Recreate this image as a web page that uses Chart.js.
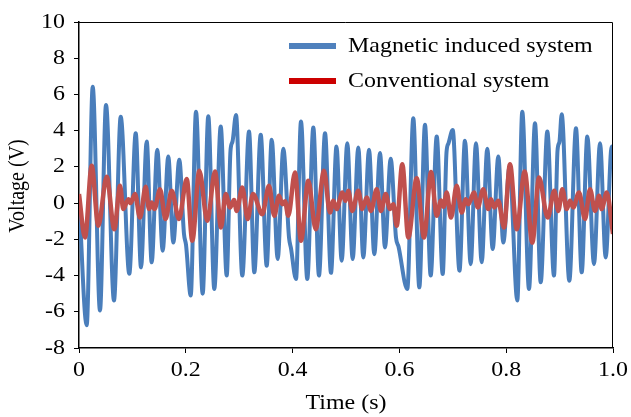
<!DOCTYPE html>
<html>
<head>
<meta charset="utf-8">
<script src="https://cdn.jsdelivr.net/npm/chart.js@4.4.1/dist/chart.umd.min.js"></script>
<style>
  html, body { margin: 0; padding: 0; background: #fff; }
  #wrap { width: 631px; height: 417px; }
</style>
</head>
<body>
<div id="wrap"><canvas id="chart-voltage" width="631" height="417"></canvas></div>
<script>
// values (peaks, troughs and shoulders)
const magneticTime = [
  0.000, 0.0144, 0.0257, 0.0393, 0.0506, 0.0655, 0.0781, 0.0942, 0.1062, 0.1161,
  0.1268, 0.1361, 0.1466, 0.1567, 0.1672, 0.1766, 0.1878, 0.1966, 0.2004, 0.2092,
  0.2191, 0.2316, 0.2421, 0.2534, 0.2654, 0.2766, 0.2837, 0.2875, 0.2940, 0.3058,
  0.3184, 0.3283, 0.3403, 0.3515, 0.3609, 0.3721, 0.3826, 0.3933, 0.3970, 0.4064,
  0.4157, 0.4275, 0.4388, 0.4494, 0.4607, 0.4719, 0.4822, 0.4919, 0.5024, 0.5125,
  0.5230, 0.5324, 0.5431, 0.5530, 0.5637, 0.5730, 0.5837, 0.5936, 0.5983, 0.6148,
  0.6260, 0.6373, 0.6479, 0.6586, 0.6699, 0.6811, 0.6882, 0.6919, 0.6998, 0.7125,
  0.7228, 0.7335, 0.7434, 0.7541, 0.7646, 0.7747, 0.7852, 0.7946, 0.8062, 0.8208,
  0.8301, 0.8427, 0.8539, 0.8646, 0.8770, 0.8895, 0.8961, 0.8998, 0.9039, 0.9182,
  0.9307, 0.9414, 0.9519, 0.9644, 0.9757, 0.9863, 0.9976, 1.000
];
const magneticVolt = [
  0.3, -6.75, 6.42, -5.93, 5.42, -5.38, 4.77, -3.9, 3.86, -3.55,
  3.4, -3.27, 2.95, -2.63, 2.58, -2.18, 2.4, -1.7, -2.3, -5.1,
  5.05, -5.0, 4.8, -4.74, 4.23, -4.0, 2.9, 3.4, 4.87, -4.0,
  3.95, -3.82, 3.77, -3.46, 3.5, -3.09, 3.0, -1.9, -2.5, -4.19,
  4.5, -4.19, 4.17, -4.0, 3.86, -3.85, 3.13, -3.18, 3.31, -3.09,
  3.07, -3.0, 2.95, -2.82, 2.76, -2.45, 2.45, -1.9, -2.4, -4.74,
  4.68, -4.65, 4.32, -4.0, 3.68, -3.91, 2.8, 3.3, 4.04, -3.73,
  3.45, -3.37, 3.31, -3.27, 3.0, -2.54, 2.58, -2.18, 2.0, -5.38,
  5.05, -4.74, 4.41, -4.37, 3.95, -4.0, 2.9, 3.4, 4.9, -4.28,
  4.13, -3.82, 3.68, -3.37, 3.31, -3.0, 3.13, 3.0
];

const conventionalTime = [
  0.000, 0.0112, 0.0238, 0.0361, 0.0519, 0.0661, 0.0768, 0.0830, 0.0923, 0.0964,
  0.1049, 0.1142, 0.1249, 0.1311, 0.1361, 0.1414, 0.1517, 0.1620, 0.1736, 0.1873,
  0.2017, 0.2122, 0.2253, 0.2403, 0.2547, 0.2659, 0.2747, 0.2828, 0.2903, 0.2953,
  0.3058, 0.3159, 0.3258, 0.3433, 0.3558, 0.3657, 0.3745, 0.3807, 0.3858, 0.3919,
  0.4045, 0.4157, 0.4294, 0.4433, 0.4588, 0.4700, 0.4762, 0.4826, 0.4931, 0.4991,
  0.5043, 0.5118, 0.5230, 0.5305, 0.5388, 0.5468, 0.5575, 0.5655, 0.5743, 0.5824,
  0.5886, 0.5949, 0.6054, 0.6167, 0.6324, 0.6461, 0.6592, 0.6699, 0.6779, 0.6826,
  0.6886, 0.6966, 0.7073, 0.7167, 0.7242, 0.7290, 0.7397, 0.7466, 0.7571, 0.7665,
  0.7715, 0.7777, 0.7852, 0.7959, 0.8071, 0.8197, 0.8346, 0.8489, 0.8614, 0.8777,
  0.8901, 0.8976, 0.9051, 0.9133, 0.9195, 0.9257, 0.9363, 0.9476, 0.9569, 0.9663,
  0.9738, 0.9788, 0.9882, 1.000
];
const conventionalVolt = [
  0.5, -1.9, 2.06, -1.25, 1.45, -1.44, 0.96, -0.33, 0.22, 0.0,
  0.5, -0.8, 0.9, -0.33, 0.03, -0.33, 0.77, -0.88, 0.68, -0.88,
  1.33, -2.08, 1.78, -0.98, 1.75, -1.35, 0.5, -0.24, 0.17, -0.43,
  0.86, -0.88, 0.5, -0.61, 0.96, -0.7, 0.4, -0.06, 0.1, -0.7,
  1.69, -2.08, 1.23, -1.44, 1.78, -0.52, 0.13, -0.33, 0.59, 0.13,
  0.68, -0.43, 0.68, -0.33, 0.31, -0.43, 0.77, -0.43, 0.5, -0.33,
  -0.06, -1.25, 2.15, -1.9, 1.37, -1.9, 1.72, -0.7, 0.15, -0.2,
  0.59, -0.8, 0.96, -0.52, 0.22, -0.06, 0.59, -0.24, 0.77, -0.33,
  0.22, -0.24, 0.13, -1.35, 2.15, -1.44, 1.75, -2.18, 1.41, -0.8,
  0.68, -0.43, 0.77, -0.33, 0.13, -0.24, 0.59, -0.88, 0.77, -0.43,
  0.4, -0.33, 0.59, -1.7
];

const seriesNames = ['Magnetic induced system', 'Conventional system'];
const xTickLabels = ['0', '0.2', '0.4', '0.6', '0.8', '1.0'];
const yTickLabels = ['-8', '-6', '-4', '-2', '0', '2', '4', '6', '8', '10'];

const toPoints = (xs, ys) => xs.map((x, i) => ({ x, y: ys[i] }));

const BLUE = '#4a7ebb';
const RED = '#c0504d';
const FONT = '"Liberation Serif", "Times New Roman", serif';
const STRETCH = 1.14; // the reference text is a bit wide

const drawText = (ctx, text, x, y, align, rotate) => {
  ctx.save();
  ctx.translate(x, y);
  ctx.scale(STRETCH, 1);
  if (rotate) ctx.rotate(-Math.PI / 2);
  ctx.textAlign = align;
  ctx.fillText(text, 0, 0);
  ctx.restore();
};

// frame on top/right, tick labels, titles and the inside legend
const textPlugin = {
  id: 'frameAndText',
  afterDraw(chart) {
    const { ctx, chartArea: a, scales } = chart;
    ctx.save();
    ctx.strokeStyle = '#000';
    ctx.lineWidth = 1;
    ctx.beginPath();
    ctx.moveTo(a.left, a.top + 0.5);
    ctx.lineTo(a.right - 0.5, a.top + 0.5);
    ctx.lineTo(a.right - 0.5, a.bottom);
    ctx.stroke();

    ctx.font = `21px ${FONT}`;
    ctx.textBaseline = 'middle';
    ctx.fillStyle = '#000';

    scales.x.ticks.forEach((t, i) => {
      drawText(ctx, xTickLabels[i], scales.x.getPixelForValue(t.value), 370, 'center');
    });
    scales.y.ticks.forEach((t, i) => {
      drawText(ctx, yTickLabels[i], 65, scales.y.getPixelForValue(t.value), 'right');
    });
    drawText(ctx, 'Time (s)', (a.left + a.right) / 2, 403, 'center');
    ctx.font = `20px ${FONT}`;
    drawText(ctx, 'Voltage (V)', 18, 186, 'center', true);

    const items = [
      { text: seriesNames[0], color: '#4f81bd', y: 46 },
      { text: seriesNames[1], color: '#cc0000', y: 81 },
    ];
    ctx.font = `21px ${FONT}`;
    items.forEach((it) => {
      ctx.fillStyle = it.color;
      ctx.fillRect(289, it.y - 3, 47, 6);
      ctx.fillStyle = '#000';
      drawText(ctx, it.text, 348, it.y, 'left');
    });
    ctx.restore();
  },
};

const canvas = document.getElementById('chart-voltage');
new Chart(canvas.getContext('2d'), {
  type: 'line',
  data: {
    datasets: [
      {
        label: seriesNames[1],
        data: toPoints(conventionalTime, conventionalVolt),
        borderColor: RED,
        borderWidth: 4.5,
        cubicInterpolationMode: 'monotone',
        pointRadius: 0,
        fill: false,
        order: 1,
      },
      {
        label: seriesNames[0],
        data: toPoints(magneticTime, magneticVolt),
        borderColor: BLUE,
        borderWidth: 4,
        cubicInterpolationMode: 'monotone',
        pointRadius: 0,
        fill: false,
        order: 2,
      },
    ],
  },
  options: {
    responsive: false,
    animation: false,
    layout: { padding: { top: 22, right: 18, left: 0, bottom: 0 } },
    plugins: { legend: { display: false }, tooltip: { enabled: false } },
    scales: {
      x: {
        type: 'linear',
        min: 0,
        max: 1,
        afterFit: (s) => { s.height = 69; },
        border: { display: true, color: '#000', width: 1.5 },
        grid: { drawOnChartArea: false, drawTicks: true, tickLength: 5, color: '#000' },
        ticks: { stepSize: 0.2, display: false },
      },
      y: {
        min: -8,
        max: 10,
        afterFit: (s) => { s.width = 79; },
        border: { display: true, color: '#000', width: 1.5 },
        grid: { drawOnChartArea: false, drawTicks: true, tickLength: 5, color: '#000' },
        ticks: { stepSize: 2, display: false },
      },
    },
  },
  plugins: [textPlugin],
});
</script>
</body>
</html>
